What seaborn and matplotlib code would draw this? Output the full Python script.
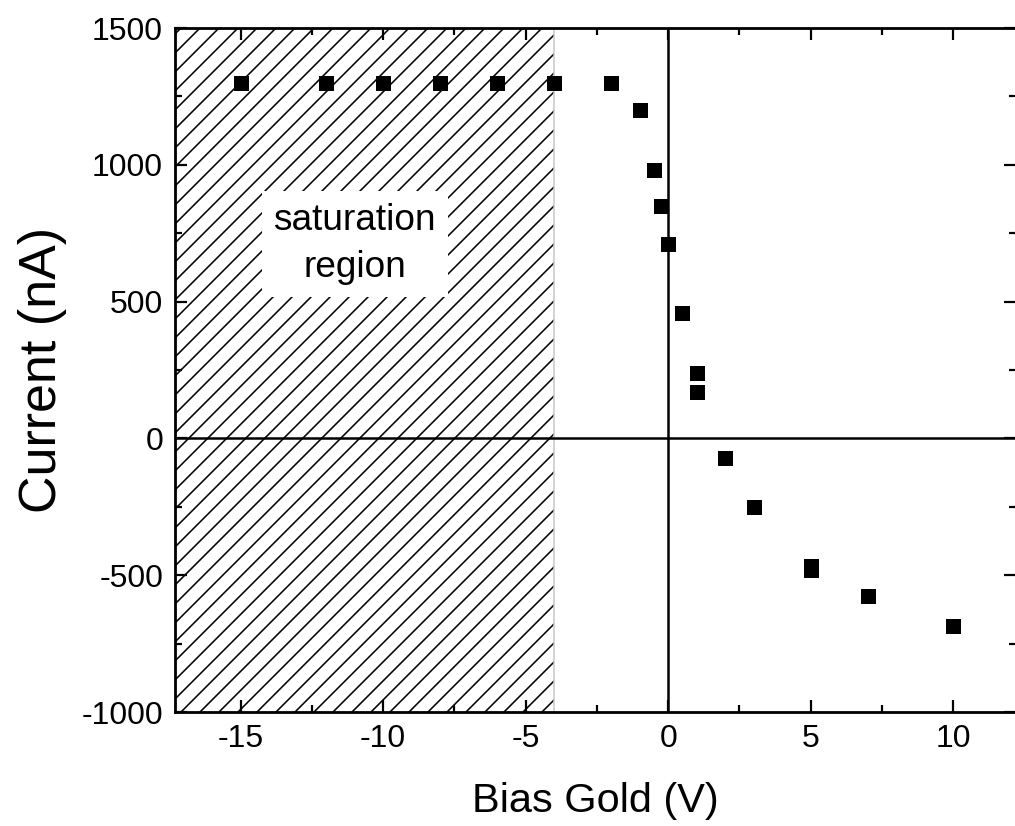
import matplotlib
matplotlib.use("Agg")
import matplotlib.pyplot as plt
from matplotlib.ticker import MultipleLocator
import pandas as pd
import seaborn as sns

# data
bias_v = [-15, -12, -10, -8, -6, -4, -2, -1, -0.5, -0.25, 0, 0.5, 1, 1, 2, 3, 5, 5, 7, 10]
current_na = [1300, 1300, 1300, 1300, 1300, 1300, 1300, 1200, 980, 850, 710, 458,
              238, 168, -70, -249, -468, -480, -577, -685]
x_limits = [-17.3, 12.2]
y_limits = [-1000, 1500]
saturation_edge = -4
region_label = "saturation\nregion"
region_label_pos = [-11, 712]

df = pd.DataFrame({"Bias Gold (V)": bias_v, "Current (nA)": current_na})

DPI = 114
sns.set_theme(style="ticks")
plt.rcParams["font.family"] = ["Liberation Sans", "DejaVu Sans"]
plt.rcParams["hatch.linewidth"] = 1.0
plt.rcParams["axes.unicode_minus"] = False
plt.rcParams["text.color"] = "black"
plt.rcParams["axes.labelcolor"] = "black"


def px(v):
    # pixel size -> points
    return v * 72 / DPI


fig = plt.figure(figsize=(1015 / DPI, 826 / DPI), dpi=DPI)
ax = fig.add_axes([175 / 1015, 1 - 712 / 826, (1016 - 175) / 1015, (712 - 28) / 826])

# hatched saturation region
ax.axvspan(x_limits[0], saturation_edge, facecolor="none", edgecolor="black",
           hatch="//", linewidth=0, zorder=0)
ax.axvline(saturation_edge, color="#c8c8c8", lw=px(1.5), zorder=0.5)

# zero lines
ax.axhline(0, color="black", lw=px(2.5), zorder=1)
ax.axvline(0, color="black", lw=px(2.5), zorder=1)

sns.scatterplot(data=df, x="Bias Gold (V)", y="Current (nA)", marker="s",
                color="black", s=px(15) ** 2, linewidth=0, ax=ax, zorder=3)

ax.text(region_label_pos[0], region_label_pos[1], region_label, ha="center",
        va="center", fontsize=px(37), linespacing=1.45, zorder=2,
        bbox=dict(facecolor="white", edgecolor="none", pad=px(12)))

ax.set_xlim(x_limits)
ax.set_ylim(y_limits)
ax.xaxis.set_major_locator(MultipleLocator(5))
ax.xaxis.set_minor_locator(MultipleLocator(2.5))
ax.yaxis.set_major_locator(MultipleLocator(500))
ax.yaxis.set_minor_locator(MultipleLocator(250))

ax.tick_params(which="both", direction="in", top=True, right=True,
               width=px(2.2), colors="black", labelsize=px(32), pad=px(12))
ax.tick_params(which="major", length=px(12))
ax.tick_params(which="minor", length=px(7))
for sp in ax.spines.values():
    sp.set_linewidth(px(2.8))
    sp.set_color("black")

ax.set_xlabel("Bias Gold (V)", fontsize=px(41.5), labelpad=px(28))
ax.set_ylabel("Current (nA)", fontsize=px(52), labelpad=px(14))

fig.savefig("out.png", dpi=DPI)
